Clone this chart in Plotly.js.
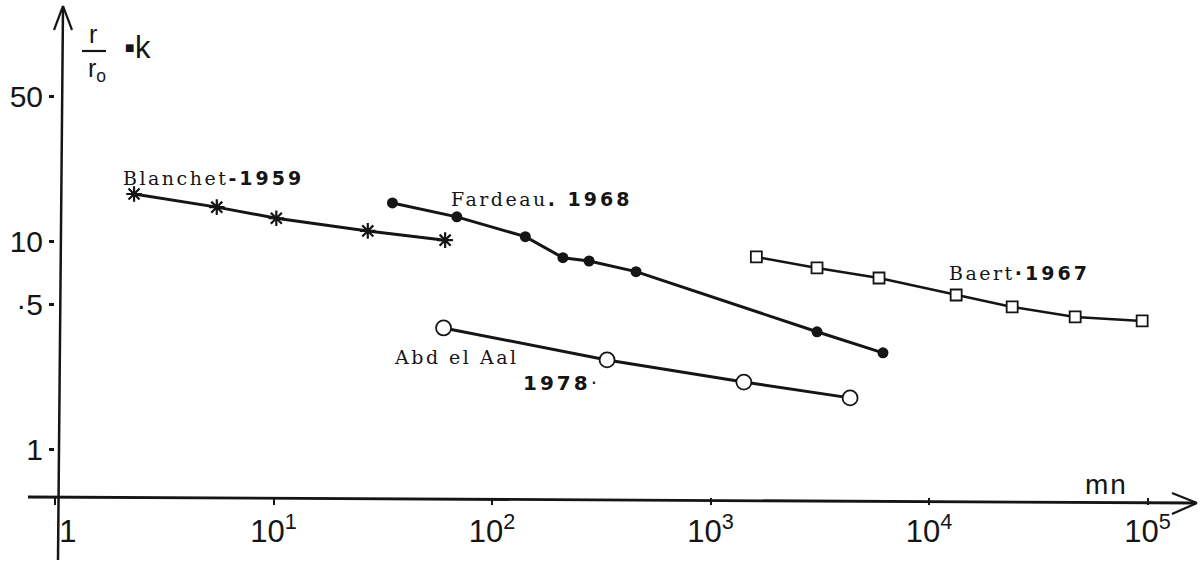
<!DOCTYPE html>
<html>
<head>
<meta charset="utf-8">
<script src="https://cdn.plot.ly/plotly-3.0.1.min.js"></script>
<style>html,body{margin:0;padding:0;background:#fff;}#chart{width:1204px;height:562px;}</style>
</head>
<body>
<div id="chart"></div>
<script>
// ---- data (mn vs r/r0 = k) ----
const blanchetX = [2.3, 5.5, 10.3, 27, 61];
const blanchetY = [17.0, 14.7, 13.0, 11.3, 10.2];

const fardeauX = [35, 69, 142, 211, 278, 456, 3070, 6150];
const fardeauY = [15.4, 13.2, 10.6, 8.4, 8.1, 7.2, 3.7, 2.93];

const baertX = [1620, 3070, 5900, 13300, 24000, 46600, 94400];
const baertY = [8.47, 7.5, 6.71, 5.56, 4.87, 4.36, 4.17];

const abdX = [60, 336, 1420, 4350];
const abdY = [3.86, 2.71, 2.12, 1.78];

const xTickVals = [1, 10, 100, 1000, 10000, 100000];
const xTickText = ["\u00a0\u00a0\u00a01", "10<sup>1</sup>", "10<sup>2</sup>", "10<sup>3</sup>", "10<sup>4</sup>", "10<sup>5</sup>"];
const yTickVals = [1, 5, 10, 50];
const yTickText = ["1", "·5", "10", "50"];

// ---- layout helpers (pixel -> paper) ----
const W = 1204, H = 562, ML = 55, MB = 65;
const px = x => (x - ML) / (W - ML);
const py = y => (H - MB - y) / (H - MB);
const INK = "#151515";

const lineStyle = {color: INK, width: 3};

const traces = [
  {x: blanchetX, y: blanchetY, mode: "lines+markers", name: "Blanchet 1959",
   line: lineStyle,
   marker: {symbol: "asterisk-open", size: 13, color: INK, line: {color: INK, width: 2.2}}},
  {x: fardeauX, y: fardeauY, mode: "lines+markers", name: "Fardeau 1968",
   line: lineStyle,
   marker: {symbol: "circle", size: 11, color: INK}},
  {x: baertX, y: baertY, mode: "lines+markers", name: "Baert 1967",
   line: {color: INK, width: 2.6},
   marker: {symbol: "square", size: 11, color: "#fff", line: {color: INK, width: 1.8}}},
  {x: abdX, y: abdY, mode: "lines+markers", name: "Abd el Aal 1978",
   line: lineStyle,
   marker: {symbol: "circle", size: 15, color: "#fff", line: {color: INK, width: 1.8}}}
];

const serif = "DejaVu Serif";
const sans = "Liberation Sans";

function ann(x, y, text, size, family, extra) {
  return Object.assign({xref: "paper", yref: "paper", x: px(x), y: py(y), text: text,
    showarrow: false, xanchor: "left", yanchor: "middle", borderpad: 0,
    font: {family: family, size: size, color: INK}}, extra || {});
}
const nm = t => '<span style="letter-spacing:2.5px">' + t + '</span>';
const yr = t => '<b style="font-family:DejaVu Sans;letter-spacing:3px">' + t + '</b>';

const annotations = [
  ann(122, 178, nm('Blanchet') + yr('-1959'), 19, serif),
  ann(450, 199, nm('Fardeau') + yr('. 1968'), 19, serif),
  ann(948, 273, nm('Baert') + yr('·1967'), 19, serif),
  ann(393, 357, nm('Abd el Aal'), 19, serif),
  ann(522, 383, yr('1978') + '·', 20, "DejaVu Sans"),
  ann(1084, 484, '<span style="letter-spacing:2px">mn</span>', 28, sans),
  ann(93, 49, 'r', 25, sans, {xanchor: "center", yanchor: "bottom"}),
  ann(97, 53, 'r<sub>o</sub>', 25, sans, {xanchor: "center", yanchor: "top"}),
  ann(123, 48, '▪k', 31, sans)
];

const shapes = [
  // y axis (with arrow)
  {type: "line", xref: "paper", yref: "paper", x0: px(58), y0: py(560), x1: px(63), y1: py(8), line: {color: INK, width: 2.5}},
  {type: "line", xref: "paper", yref: "paper", x0: px(54), y0: py(30), x1: px(63), y1: py(6), line: {color: INK, width: 2.2}},
  {type: "line", xref: "paper", yref: "paper", x0: px(72), y0: py(30), x1: px(63), y1: py(6), line: {color: INK, width: 2.2}},
  // x axis (with arrow)
  {type: "line", xref: "paper", yref: "paper", x0: px(28), y0: py(497), x1: px(1196), y1: py(503), line: {color: INK, width: 2.8}},
  {type: "line", xref: "paper", yref: "paper", x0: px(1172), y0: py(493), x1: px(1197), y1: py(503), line: {color: INK, width: 2.2}},
  {type: "line", xref: "paper", yref: "paper", x0: px(1172), y0: py(514), x1: px(1197), y1: py(503), line: {color: INK, width: 2.2}},
  // fraction bar of the y title
  {type: "line", xref: "paper", yref: "paper", x0: px(82), y0: py(51), x1: px(106), y1: py(51), line: {color: INK, width: 2.2}}
];

const layout = {
  width: W, height: H,
  margin: {l: ML, r: 0, t: 0, b: MB, pad: 0},
  paper_bgcolor: "#fff", plot_bgcolor: "#fff",
  showlegend: false,
  xaxis: {type: "log", range: [0, 5.258], showgrid: false, zeroline: false, showline: false,
    tickmode: "array", tickvals: xTickVals, ticktext: xTickText,
    ticks: "outside", ticklen: 7, tickwidth: 2, tickcolor: INK,
    tickfont: {family: sans, size: 31, color: INK}},
  yaxis: {type: "log", range: [-0.226, 2.163], showgrid: false, zeroline: false, showline: false,
    tickmode: "array", tickvals: yTickVals, ticktext: yTickText,
    ticks: "outside", ticklen: 5, tickwidth: 3, tickcolor: INK,
    tickfont: {family: sans, size: 30, color: INK}},
  annotations: annotations,
  shapes: shapes
};

Plotly.newPlot("chart", traces, layout, {displayModeBar: false, staticPlot: true});
</script>
</body>
</html>
